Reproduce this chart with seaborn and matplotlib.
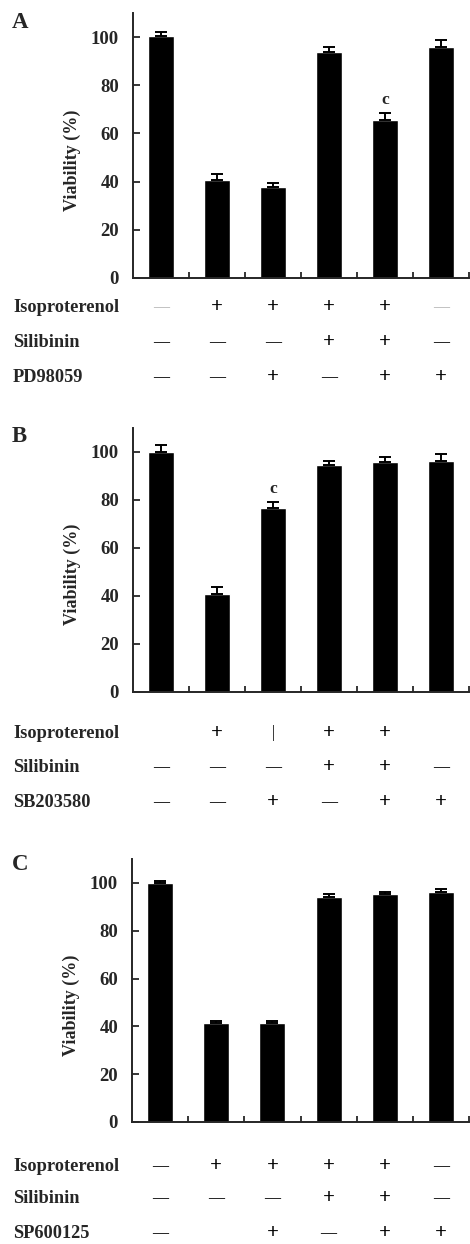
import matplotlib
matplotlib.use("Agg")
import matplotlib.pyplot as plt
import matplotlib.transforms as mtransforms
import seaborn as sns
import pandas as pd
import numpy as np

# data
groups = ["g1", "g2", "g3", "g4", "g5", "g6"]

viab_a = [100.3, 40.8, 37.8, 94.0, 65.5, 96.0]
err_a = [1.8, 2.4, 1.8, 1.8, 2.8, 2.6]
sig_a = ["", "", "", "", "c", ""]

viab_b = [100.0, 41.0, 76.5, 94.6, 95.8, 96.4]
err_b = [3.0, 2.9, 2.5, 1.8, 2.0, 2.9]
sig_b = ["", "", "c", "", "", ""]

viab_c = [100.0, 41.2, 41.2, 94.3, 95.4, 96.4]
err_c = [1.0, 1.1, 1.1, 1.0, 1.0, 0.9]
sig_c = ["", "", "", "", "", ""]

# treatment table, "~" = faint dash, "|" = bar, "" = blank
iso_a = ["~", "+", "+", "+", "+", "~"]
sil_a = ["-", "-", "-", "+", "+", "-"]
pd_a = ["-", "-", "+", "-", "+", "+"]

iso_b = ["", "+", "|", "+", "+", ""]
sil_b = ["-", "-", "-", "+", "+", "-"]
sb_b = ["-", "-", "+", "-", "+", "+"]

iso_c = ["-", "+", "+", "+", "+", "-"]
sil_c = ["-", "-", "-", "+", "+", "-"]
sp_c = ["-", "", "+", "-", "+", "+"]

sns.set_style("ticks")
plt.rcParams['font.family'] = ['Liberation Serif', 'DejaVu Serif']

W, H = 470, 1244
fig = plt.figure(figsize=(W / 100, H / 100), dpi=100)

panels = [
    ("A", viab_a, err_a, sig_a, [("Isoproterenol", iso_a), ("Silibinin", sil_a), ("PD98059", pd_a)],
     (133, 469, 13, 278), [29, 64, 99], 22),
    ("B", viab_b, err_b, sig_b, [("Isoproterenol", iso_b), ("Silibinin", sil_b), ("SB203580", sb_b)],
     (133, 469, 428, 692), [41, 75, 110], 436),
    ("C", viab_c, err_c, sig_c, [("Isoproterenol", iso_c), ("Silibinin", sil_c), ("SP600125", sp_c)],
     (132, 469, 859, 1122), [44, 76, 111], 865),
]

glyph = {"+": "+", "-": "\u2014", "~": "\u2014", "|": "|", "": ""}

for letter, vals, errs, sigs, rows, box, row_dy, letter_y in panels:
    l, r, t, b = box
    ax = fig.add_axes([l / W, 1 - b / H, (r - l) / W, (b - t) / H])
    df = pd.DataFrame({"group": groups, "viability": vals})
    sns.barplot(data=df, x="group", y="viability", color="black", width=0.46,
                errorbar=None, saturation=1, ax=ax)
    x = np.arange(len(groups))
    ax.errorbar(x, vals, yerr=[np.zeros(len(vals)), errs], fmt="none", ecolor="black",
                elinewidth=1.4, capsize=4.5, capthick=1.4)
    for xi, v, e, s in zip(x, vals, errs, sigs):
        if s:
            ax.text(xi, v + e + 2.3, s, ha="center", va="bottom", fontsize=12.5, fontweight="bold")

    ax.set_xlim(-0.5, len(groups) - 0.5)
    ax.set_ylim(0, 110)
    ax.set_yticks(range(0, 101, 20))
    ax.set_xticks(np.arange(len(groups)) + 0.5)
    ax.set_xticklabels([])
    ax.tick_params(axis="x", direction="in", length=4, width=1.3)
    ax.tick_params(axis="y", direction="in", length=5, width=1.3, pad=10, labelsize=13.5)
    for lab in ax.get_yticklabels():
        lab.set_fontweight("bold")
    ax.set_xlabel("")
    ax.set_ylabel("Viability (%)", fontsize=13, fontweight="bold")
    ax.yaxis.set_label_coords(-0.155, 0.445)
    sns.despine(ax=ax)
    for sp in ["left", "bottom"]:
        ax.spines[sp].set_linewidth(1.4)

    fig.text(12 / W, 1 - letter_y / H, letter, fontsize=16.5, fontweight="bold", va="center", ha="left")

    trans = mtransforms.blended_transform_factory(ax.transData, fig.transFigure)
    for (name, cells), dy in zip(rows, row_dy):
        yc = b + dy
        fig.text(13 / W, 1 - (yc + 5) / H, name, fontsize=13.2, fontweight="bold",
                 ha="left", va="baseline")
        for xi, c in zip(x, cells):
            if not c:
                continue
            col = "#b0b0b0" if c == "~" else "black"
            wt = "normal" if c in "~|" else "bold"
            fs = 15 if c == "+" else 11.5
            ax.text(xi, 1 - yc / H, glyph[c], transform=trans, ha="center", va="center",
                    fontsize=fs, color=col, fontweight=wt, clip_on=False)

fig.savefig("out.png", dpi=100)
